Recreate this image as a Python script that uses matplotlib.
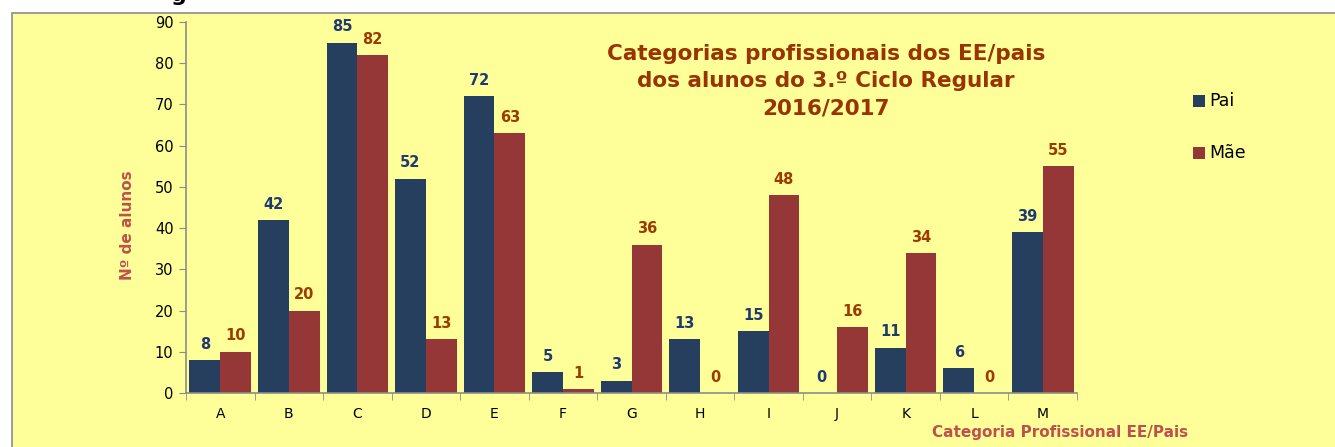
import matplotlib
matplotlib.use("Agg")
import matplotlib.pyplot as plt
from matplotlib.patches import Rectangle
import numpy as np

categories = ["A", "B", "C", "D", "E", "F", "G", "H", "I", "J", "K", "L", "M"]
pai = [8, 42, 85, 52, 72, 5, 3, 13, 15, 0, 11, 6, 39]
mae = [10, 20, 82, 13, 63, 1, 36, 0, 48, 16, 34, 0, 55]
yticks = [0, 10, 20, 30, 40, 50, 60, 70, 80, 90]

W, H = 1335, 447
fig = plt.figure(figsize=(W / 100, H / 100), dpi=100)
fig.patch.set_facecolor("white")
bg = Rectangle((12 / W, -0.05), 1.2, 1 - 13 / H + 0.05, transform=fig.transFigure,
               facecolor="#FFFF99", edgecolor="#8c8c8c", linewidth=1.2, zorder=-5)
fig.patches.append(bg)

ax = fig.add_axes([186 / W, 1 - 393 / H, (1077 - 186) / W, (393 - 22) / H])
ax.set_zorder(2)
ax.set_facecolor("none")

x = np.arange(len(categories))
bw = 0.45
c_pai = "#263F5F"
c_mae = "#953737"
ax.bar(x - bw / 2, pai, bw, color=c_pai, zorder=2)
ax.bar(x + bw / 2, mae, bw, color=c_mae, zorder=2)

for xi, v in zip(x, pai):
    ax.annotate(str(v), (xi - bw / 2, v), xytext=(0, 6), textcoords="offset points",
                ha="center", va="bottom", fontsize=10.5, fontweight="bold", color="#1F3A70")
for xi, v in zip(x, mae):
    ax.annotate(str(v), (xi + bw / 2, v), xytext=(0, 6), textcoords="offset points",
                ha="center", va="bottom", fontsize=10.5, fontweight="bold", color="#9C3A00")

ax.set_xlim(-0.5, len(categories) - 0.5)
ax.set_ylim(0, 90)
ax.set_yticks(yticks)
ax.set_xticks(x)
ax.set_xticklabels(categories)
ax.set_xticks(np.arange(len(categories) + 1) - 0.5, minor=True)
ax.tick_params(axis="x", which="major", length=0, pad=10, labelsize=10)
ax.tick_params(axis="x", which="minor", length=5, color="#8c8c8c", direction="out")
ax.tick_params(axis="y", length=5, color="#8c8c8c", labelsize=10.5, pad=4)
for s in ["top", "right"]:
    ax.spines[s].set_visible(False)
for s in ["left", "bottom"]:
    ax.spines[s].set_color("#8c8c8c")
    ax.spines[s].set_linewidth(1.2)

lab_color = "#C0504D"
fig.text(128 / W, 1 - 225 / H, "Nº de alunos", rotation=90, ha="center", va="center",
         fontsize=11, fontweight="bold", color=lab_color)
fig.text(1060 / W, 1 - 432 / H, "Categoria Profissional EE/Pais", ha="center", va="center",
         fontsize=11, fontweight="bold", color=lab_color)

fig.text(826 / W, 1 - 81 / H,
         "Categorias profissionais dos EE/pais\ndos alunos do 3.º Ciclo Regular\n2016/2017",
         ha="center", va="center", fontsize=15.5, fontweight="bold", color="#993300",
         linespacing=1.45)

# legend
fig.patches.append(Rectangle((1193 / W, 1 - 107 / H), 12 / W, 12 / H, transform=fig.transFigure,
                             facecolor=c_pai, edgecolor="none", zorder=3))
fig.patches.append(Rectangle((1193 / W, 1 - 159 / H), 12 / W, 12 / H, transform=fig.transFigure,
                             facecolor=c_mae, edgecolor="none", zorder=3))
fig.text(1209 / W, 1 - 101 / H, "Pai", ha="left", va="center", fontsize=12.5, color="black")
fig.text(1209 / W, 1 - 153 / H, "Mãe", ha="left", va="center", fontsize=12.5, color="black")

fig.text(179 / W, 1 + 5 / H, "g", ha="center", va="center", fontsize=16, fontweight="bold",
         color="black")

fig.savefig("out.png", dpi=100, facecolor=fig.get_facecolor())
